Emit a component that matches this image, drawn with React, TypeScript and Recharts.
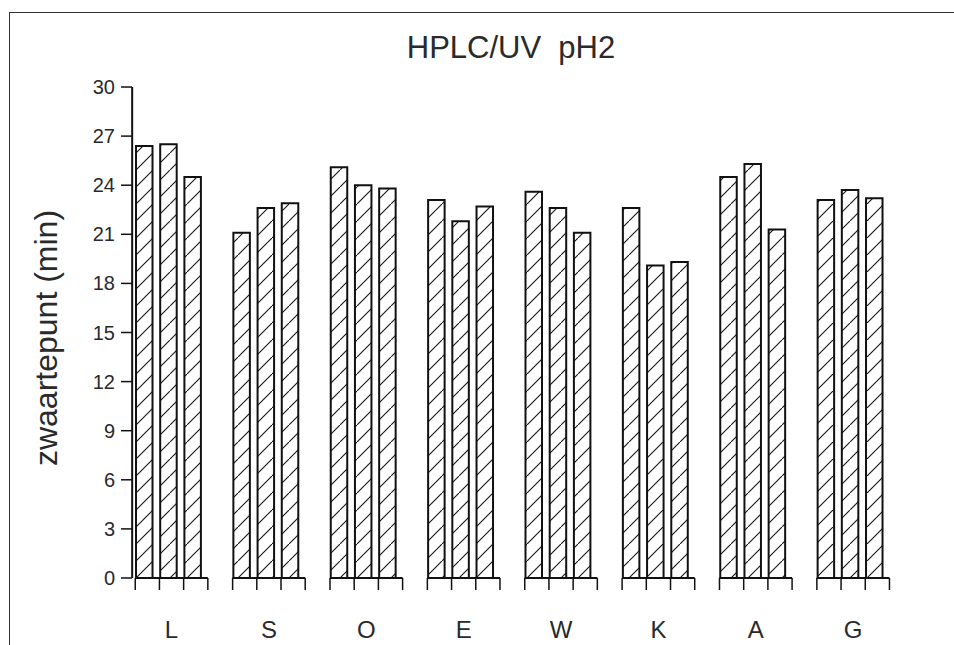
import React from "react";
import { BarChart, Bar, XAxis, YAxis, ReferenceLine } from "recharts";

// zwaartepunt per compound, three runs each
const categories = ["L", "S", "O", "E", "W", "K", "A", "G"];
const run1 = [26.4, 21.1, 25.1, 23.1, 23.6, 22.6, 24.5, 23.1];
const run2 = [26.5, 22.6, 24.0, 21.8, 22.6, 19.1, 25.3, 23.7];
const run3 = [24.5, 22.9, 23.8, 22.7, 21.1, 19.3, 21.3, 23.2];
const yTicks = [0, 3, 6, 9, 12, 15, 18, 21, 24, 27, 30];

const data = categories.map((name, i) => ({
  name,
  idx: i,
  run1: run1[i],
  run2: run2[i],
  run3: run3[i],
}));

const WIDTH = 954;
const HEIGHT = 645;
const BAR_SIZE = 16.5;
const BAR_GAP = 7.7;
const PITCH = BAR_SIZE + BAR_GAP;
const INK = "#111";
const TEXT = "#2a2a2a";
const FONT = "'Liberation Sans', Arial, sans-serif";
// where the value axis sits, in category units of the hidden position axis
const AXIS_POS = 0.125;

const YTick = ({ x, y, payload }: any) => (
  <g>
    <line x1={x + 1} x2={x + 12} y1={y} y2={y} stroke={INK} strokeWidth={1.5} />
    <text x={x - 5} y={y} dy={7} textAnchor="end" fontSize={20} fontFamily={FONT} fill={TEXT}>
      {payload.value}
    </text>
  </g>
);

// each group gets its own little baseline with four ticks under the bars
const XTick = ({ x, y, payload }: any) => {
  const groupWidth = 3 * BAR_SIZE + 2 * BAR_GAP;
  const start = x - groupWidth / 2 - 1;
  const end = start + 3 * PITCH;
  return (
    <g>
      <line x1={start} x2={end} y1={y} y2={y} stroke={INK} strokeWidth={2} />
      {[0, 1, 2, 3].map((i) => (
        <line
          key={i}
          x1={start + i * PITCH}
          x2={start + i * PITCH}
          y1={y}
          y2={y + 12}
          stroke={INK}
          strokeWidth={1.5}
        />
      ))}
      <text x={(start + end) / 2} y={y + 60} textAnchor="middle" fontSize={24} fontFamily={FONT} fill={TEXT}>
        {payload.value}
      </text>
    </g>
  );
};

export default function App() {
  return (
    <div style={{ position: "absolute", left: 0, top: 0, width: WIDTH, height: HEIGHT, background: "#fff" }}>
      <div
        style={{
          position: "absolute",
          left: 9,
          top: 12,
          right: 0,
          bottom: 0,
          borderTop: "1.5px solid #333",
          borderLeft: "1.5px solid #333",
        }}
      />
      <svg width={WIDTH} height={HEIGHT} style={{ position: "absolute", left: 0, top: 0, pointerEvents: "none" }}>
        <defs>
          <pattern id="hatch" patternUnits="userSpaceOnUse" width={17} height={17}>
            <rect width={17} height={17} fill="#fff" />
            <path d="M-2,19 L19,-2" stroke={INK} strokeWidth={1.1} />
          </pattern>
        </defs>
        <text x={511} y={58} textAnchor="middle" fontSize={31} fontFamily={FONT} fill={TEXT} style={{ whiteSpace: "pre" }}>
          HPLC/UV  pH2
        </text>
        <text
          transform="translate(57, 338) rotate(-90)"
          textAnchor="middle"
          fontSize={32}
          fontFamily={FONT}
          fill={TEXT}
        >
          zwaartepunt (min)
        </text>
      </svg>
      <div style={{ position: "absolute", left: 0, top: 0 }}>
        <BarChart
          width={WIDTH}
          height={HEIGHT}
          data={data}
          margin={{ top: 87, right: 55, bottom: 0, left: 0 }}
          barSize={BAR_SIZE}
          barGap={BAR_GAP}
        >
          <XAxis
            xAxisId="cat"
            dataKey="name"
            axisLine={false}
            tickLine={false}
            tickSize={0}
            tickMargin={0}
            height={67}
            interval={0}
            tick={<XTick />}
          />
          <XAxis xAxisId="pos" type="number" dataKey="idx" domain={[0, 8]} allowDataOverflow hide />
          <YAxis
            domain={[0, 30]}
            ticks={yTicks}
            interval={0}
            width={120}
            axisLine={false}
            tickLine={false}
            tickSize={0}
            tickMargin={0}
            tick={<YTick />}
          />
          <ReferenceLine xAxisId="pos" x={AXIS_POS} stroke={INK} strokeWidth={2} />
          <Bar xAxisId="cat" dataKey="run1" fill="url(#hatch)" stroke={INK} strokeWidth={2} isAnimationActive={false} />
          <Bar xAxisId="cat" dataKey="run2" fill="url(#hatch)" stroke={INK} strokeWidth={2} isAnimationActive={false} />
          <Bar xAxisId="cat" dataKey="run3" fill="url(#hatch)" stroke={INK} strokeWidth={2} isAnimationActive={false} />
        </BarChart>
      </div>
    </div>
  );
}
